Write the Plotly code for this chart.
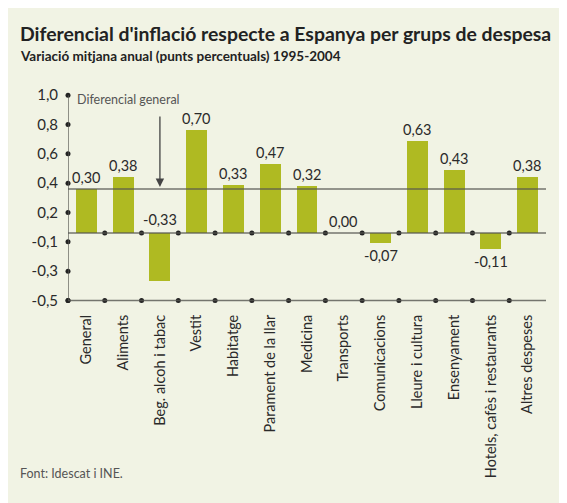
import plotly.graph_objects as go

categories = ["General", "Aliments", "Beg. alcoh i tabac", "Vestit", "Habitatge",
              "Parament de la llar", "Medicina", "Transports", "Comunicacions",
              "Lleure i cultura", "Ensenyament", "Hotels, cafès i restaurants",
              "Altres despeses"]
values = [0.30, 0.38, -0.33, 0.70, 0.33, 0.47, 0.32, 0.00, -0.07, 0.63, 0.43, -0.11, 0.38]
y_tick_labels = ["1,0", "0,8", "0,6", "0,4", "0,2", "-0,1", "-0,3", "-0,5"]
general_value = values[0]

title = "Diferencial d'inflació respecte a Espanya per grups de despesa"
subtitle = "Variació mitjana anual (punts percentuals) 1995-2004"
source = "Font: Idescat i INE."
ref_label = "Diferencial general"

OFF = 8  # page body margin
PW, PH = 567, 503
L, R, T, B = 60, 29, 82, 209
Y0, Y1 = -0.47, 0.975

def px_x(x):
    return (x - OFF - L) / (PW - L - R)

def px_y(y):
    return (PH - B - (y - OFF)) / (PH - T - B)

BG = "#F1F3E4"
BAR = "#AFBA22"
LINE = "rgba(85,85,80,0.8)"
TXT = "#2a2a2a"
FONT = "Lato"

tick_bottom = -0.46
tickvals = [tick_bottom + 0.2 * (len(y_tick_labels) - 1 - i) for i in range(len(y_tick_labels))]
tick_top = tickvals[0]
n = len(categories)
xs = list(range(n))

fig = go.Figure()
fig.add_trace(go.Bar(x=xs, y=values, marker=dict(color=BAR, line=dict(width=0)),
                     width=0.57, hoverinfo="skip"))

bx = [i + 0.5 for i in range(n - 1)]
fig.add_trace(go.Scatter(x=bx, y=[0] * len(bx), mode="markers",
                         marker=dict(size=5, color="#222"), cliponaxis=False, hoverinfo="skip"))
fig.add_trace(go.Scatter(x=[-0.5] + bx, y=[tick_bottom] * (len(bx) + 1), mode="markers",
                         marker=dict(size=5, color="#222"), cliponaxis=False, hoverinfo="skip"))
fig.add_trace(go.Scatter(x=[-0.5] * len(tickvals), y=tickvals, mode="markers",
                         marker=dict(size=5, color="#222"), cliponaxis=False, hoverinfo="skip"))

shapes = [
    dict(type="line", xref="x", yref="y", x0=-0.5, x1=n - 0.5, y0=0, y1=0,
         line=dict(color=LINE, width=1.6), layer="above"),
    dict(type="line", xref="x", yref="y", x0=-0.5, x1=n - 0.5, y0=general_value, y1=general_value,
         line=dict(color=LINE, width=1.6), layer="above"),
    dict(type="line", xref="x", yref="y", x0=-0.5, x1=n - 0.5, y0=tick_bottom, y1=tick_bottom,
         line=dict(color=LINE, width=1.6), layer="above"),
    dict(type="line", xref="x", yref="y", x0=-0.5, x1=-0.5, y0=tick_bottom, y1=tick_top,
         line=dict(color=LINE, width=1.6), layer="above"),
]

annotations = []
for i, v in enumerate(values):
    txt = f"{v:.2f}".replace(".", ",")
    f = dict(size=14.5, color=TXT, family=FONT)
    if v >= 0:
        annotations.append(dict(x=i, y=v, text=txt, showarrow=False, yanchor="bottom",
                                yshift=1, font=f))
    elif v < -0.2:
        # long negative bar: label sits above the baseline
        annotations.append(dict(x=i, y=0, text=txt, showarrow=False, yanchor="bottom",
                                yshift=3, font=f))
    else:
        annotations.append(dict(x=i, y=v, text=txt, showarrow=False, yanchor="top",
                                yshift=-2, font=f))

annotations += [
    dict(xref="paper", yref="paper", x=px_x(18), y=px_y(33), xanchor="left", yanchor="middle",
         text="<b>" + title + "</b>", showarrow=False, font=dict(size=19.4, color="#222", family=FONT)),
    dict(xref="paper", yref="paper", x=px_x(18), y=px_y(56), xanchor="left", yanchor="middle",
         text="<b>" + subtitle + "</b>", showarrow=False, font=dict(size=13.5, color="#222", family=FONT)),
    dict(xref="paper", yref="paper", x=px_x(18), y=px_y(473), xanchor="left", yanchor="middle",
         text=source, showarrow=False, font=dict(size=12.5, color="#555", family=FONT)),
    dict(xref="paper", yref="paper", x=px_x(75), y=px_y(99), xanchor="left", yanchor="middle",
         text=ref_label, showarrow=False, font=dict(size=12.5, color="#555", family=FONT)),
    dict(x=2, y=general_value, ax=0, ay=-74, text="", showarrow=True, arrowhead=2,
         arrowsize=1.3, arrowwidth=1.3, arrowcolor="#444", standoff=2),
]

fig.update_layout(
    width=PW, height=PH,
    margin=dict(l=L, r=R, t=T, b=B),
    paper_bgcolor=BG, plot_bgcolor=BG,
    showlegend=False, bargap=0,
    shapes=shapes, annotations=annotations,
    xaxis=dict(range=[-0.5, n - 0.5], tickvals=xs, ticktext=categories, tickangle=-90,
               showgrid=False, zeroline=False, showline=False,
               ticks="outside", ticklen=6, tickcolor="rgba(0,0,0,0)",
               tickfont=dict(size=14.5, color=TXT, family=FONT), fixedrange=True),
    yaxis=dict(range=[Y0, Y1], tickvals=tickvals, ticktext=y_tick_labels,
               showgrid=False, zeroline=False, showline=False,
               ticks="outside", ticklen=6, tickcolor="rgba(0,0,0,0)",
               tickfont=dict(size=15, color=TXT, family=FONT), fixedrange=True),
)

fig.write_html("out.html")
